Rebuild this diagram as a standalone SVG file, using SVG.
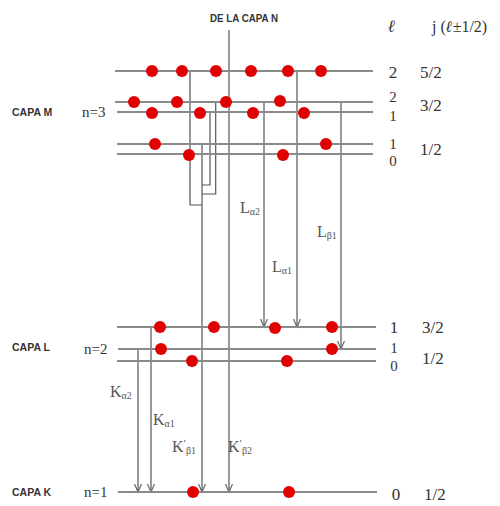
<svg xmlns="http://www.w3.org/2000/svg" width="500" height="506" viewBox="0 0 500 506">
<defs>
<style>
.lvl{stroke:#8a8a8a;stroke-width:1.8;fill:none}
.tr{stroke:#555;stroke-width:1.2;fill:none}
.dot{fill:#e10000}
.capa{font-family:"Liberation Sans",Arial,sans-serif;font-size:10.5px;font-weight:bold;fill:#333}
.ser{font-family:"Liberation Serif","Times New Roman",serif;fill:#333}
.num{font-family:"Liberation Serif","Times New Roman",serif;font-size:17px;fill:#333}
.stk{font-family:"Liberation Serif","Times New Roman",serif;font-size:15px;fill:#333}
.lab{font-family:"Liberation Serif","Times New Roman",serif;font-size:16px;fill:#555}
</style>
<marker id="arr" markerWidth="10" markerHeight="10" refX="8" refY="4" orient="auto" markerUnits="userSpaceOnUse">
<path d="M0,0.5 L8,4 L0,7.5" fill="none" stroke="#666" stroke-width="1.2"/>
</marker>
</defs>
<rect width="500" height="506" fill="#fff"/>

<g id="header">
<text x="244" y="22" text-anchor="middle" class="capa" textLength="68" lengthAdjust="spacingAndGlyphs">DE LA CAPA N</text>
<text x="388" y="32" class="ser" font-size="17" font-weight="bold" font-style="italic">ℓ</text>
<text x="432" y="32" class="ser" font-size="16">j (<tspan font-weight="bold" font-style="italic">ℓ</tspan>±1/2)</text>
</g>

<g id="connectors">
<path class="tr" d="M229,30 V492" marker-end="url(#arr)"/>
<path class="tr" d="M190,71 V205 H202"/>
<path class="tr" d="M210,112 V185 H202"/>
<path class="tr" d="M215.7,102 V194 H202"/>
<path class="tr" d="M202,144 V492" marker-end="url(#arr)"/>
<path class="tr" d="M264,102 V327" marker-end="url(#arr)"/>
<path class="tr" d="M297,71 V327" marker-end="url(#arr)"/>
<path class="tr" d="M341,102 V349" marker-end="url(#arr)"/>
<path class="tr" d="M138,349 V492" marker-end="url(#arr)"/>
<path class="tr" d="M151,327 V492" marker-end="url(#arr)"/>
</g>

<g id="capa-m">
<text x="12" y="116" class="capa">CAPA M</text>
<text x="82" y="117" class="ser" font-size="15">n=3</text>
<line class="lvl" x1="115" y1="71" x2="373" y2="71"/>
<line class="lvl" x1="115" y1="102" x2="373" y2="102"/>
<line class="lvl" x1="117" y1="112" x2="373" y2="112"/>
<line class="lvl" x1="117" y1="144" x2="373" y2="144"/>
<line class="lvl" x1="117" y1="154" x2="373" y2="154"/>
<circle class="dot" cx="152" cy="71" r="6"/>
<circle class="dot" cx="182" cy="71" r="6"/>
<circle class="dot" cx="216" cy="71" r="6"/>
<circle class="dot" cx="251" cy="71" r="6"/>
<circle class="dot" cx="288" cy="71" r="6"/>
<circle class="dot" cx="321" cy="71" r="6"/>
<circle class="dot" cx="134" cy="102" r="6"/>
<circle class="dot" cx="177" cy="102" r="6"/>
<circle class="dot" cx="226" cy="102" r="6"/>
<circle class="dot" cx="280" cy="101" r="6"/>
<circle class="dot" cx="152" cy="113" r="6"/>
<circle class="dot" cx="200" cy="113" r="6"/>
<circle class="dot" cx="253" cy="113" r="6"/>
<circle class="dot" cx="304" cy="113" r="6"/>
<circle class="dot" cx="155" cy="144" r="6"/>
<circle class="dot" cx="326" cy="144" r="6"/>
<circle class="dot" cx="189" cy="155" r="6"/>
<circle class="dot" cx="283" cy="155" r="6"/>
<text x="393" y="78" class="num" text-anchor="middle">2</text>
<text x="420" y="78" class="num">5/2</text>
<text x="393" y="102" class="stk" text-anchor="middle">2</text>
<text x="393" y="121" class="stk" text-anchor="middle">1</text>
<text x="420" y="111" class="num">3/2</text>
<text x="393" y="149" class="stk" text-anchor="middle">1</text>
<text x="393" y="166" class="stk" text-anchor="middle">0</text>
<text x="420" y="155" class="num">1/2</text>
</g>

<g id="capa-l">
<text x="12" y="351" class="capa">CAPA L</text>
<text x="84" y="354" class="ser" font-size="15">n=2</text>
<line class="lvl" x1="117" y1="327" x2="376" y2="327"/>
<line class="lvl" x1="118" y1="349" x2="376" y2="349"/>
<line class="lvl" x1="117" y1="361" x2="376" y2="361"/>
<circle class="dot" cx="160" cy="327" r="6"/>
<circle class="dot" cx="214" cy="327" r="6"/>
<circle class="dot" cx="275" cy="328" r="6"/>
<circle class="dot" cx="332" cy="327" r="6"/>
<circle class="dot" cx="161" cy="349" r="6"/>
<circle class="dot" cx="332" cy="349" r="6"/>
<circle class="dot" cx="192" cy="361" r="6"/>
<circle class="dot" cx="287" cy="361" r="6"/>
<text x="394" y="333" class="num" text-anchor="middle">1</text>
<text x="422" y="333" class="num">3/2</text>
<text x="394" y="353" class="stk" text-anchor="middle">1</text>
<text x="394" y="371" class="stk" text-anchor="middle">0</text>
<text x="422" y="364" class="num">1/2</text>
</g>

<g id="capa-k">
<text x="12" y="496" class="capa">CAPA K</text>
<text x="84" y="497" class="ser" font-size="15">n=1</text>
<line class="lvl" x1="118" y1="492" x2="377" y2="492"/>
<circle class="dot" cx="193" cy="492" r="6"/>
<circle class="dot" cx="289" cy="492" r="6"/>
<text x="396" y="500" class="num" text-anchor="middle">0</text>
<text x="424" y="500" class="num">1/2</text>
</g>

<g id="labels">
<text x="240" y="213" class="lab">L<tspan font-size="10" dy="2">α2</tspan></text>
<text x="272" y="272" class="lab">L<tspan font-size="10" dy="2">α1</tspan></text>
<text x="317" y="237" class="lab">L<tspan font-size="10" dy="2">β1</tspan></text>
<text x="110" y="397" class="lab">K<tspan font-size="10" dy="2">α2</tspan></text>
<text x="153" y="425" class="lab">K<tspan font-size="10" dy="2">α1</tspan></text>
<text x="172" y="452" class="lab">K<tspan font-size="11" dy="-5">′</tspan><tspan font-size="10" dy="7">β1</tspan></text>
<text x="228" y="452" class="lab">K<tspan font-size="11" dy="-5">′</tspan><tspan font-size="10" dy="7">β2</tspan></text>
</g>
</svg>
